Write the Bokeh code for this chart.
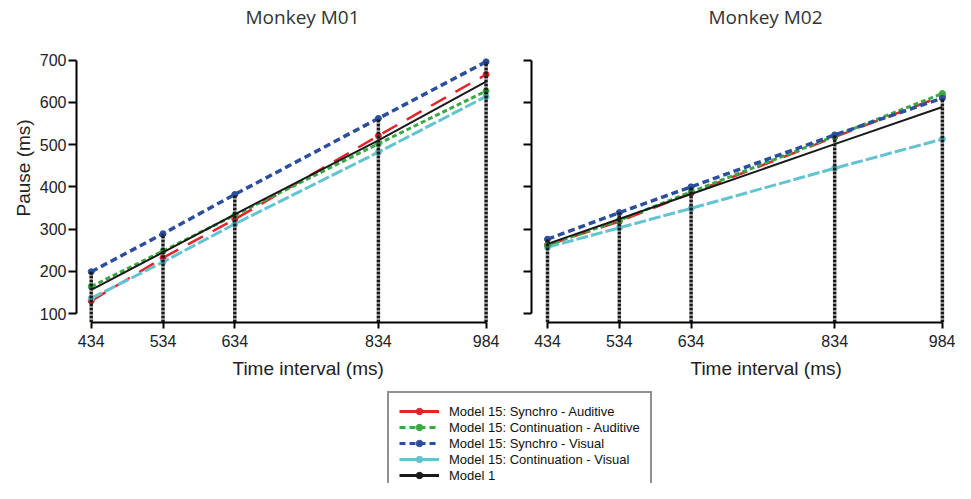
from bokeh.plotting import figure
from bokeh.layouts import column, row
from bokeh.models import (Range1d, FixedTicker, Title, Legend, LegendItem, LinearAxis,
                          ColumnDataSource, CustomJSTickFormatter)
from bokeh.embed import file_html
from bokeh.resources import INLINE

# ---------------- data ----------------
TIME_INTERVALS = [434, 534, 634, 834, 984]
Y_TICKS = [100, 200, 300, 400, 500, 600, 700]

M01_SYNCHRO_AUD = [130, 232, 323, 521, 666]
M01_CONT_AUD = [164, 248, 333, 502, 627]
M01_SYNCHRO_VIS = [199, 289, 382, 562, 696]
M01_CONT_VIS = [136, 222, 312, 482, 614]
M01_MODEL1 = [156, 245, 335, 510, 649]

M02_SYNCHRO_AUD = [262, 318, 385, 518, 615]
M02_CONT_AUD = [262, 321, 388, 520, 621]
M02_SYNCHRO_VIS = [276, 339, 400, 523, 610]
M02_CONT_VIS = [257, 303, 349, 444, 513]
M02_MODEL1 = [265, 324, 383, 501, 589]

LABELS = ["Model 15: Synchro - Auditive", "Model 15: Continuation - Auditive",
          "Model 15: Synchro - Visual", "Model 15: Continuation - Visual",
          "Model 1"]

# ---------------- styles ----------------
RED, GREEN, BLUE, CYAN, BLACK = "#e3242b", "#3aa843", "#2b4e9e", "#63c3d1", "#1a1a1a"
SERIES_STYLE = {
    "sa": dict(color=RED, dash="17 11", width=2.5, marker=True),
    "ca": dict(color=GREEN, dash="5 3", width=3, marker=True),
    "sv": dict(color=BLUE, dash="7 4", width=3.5, marker=True),
    "cv": dict(color=CYAN, dash="12 3", width=3, marker=True),
    "m1": dict(color=BLACK, dash="solid", width=2, marker=False),
}
DRAW_ORDER = ["sa", "cv", "ca", "sv", "m1"]
TICK_FONT = "Liberation Sans"


def make_panel(title, title_offset, xlabel_offset, series, x_start, width,
               mb_left, mb_right, show_ylabels):
    p = figure(width=width, height=385, output_backend="svg", toolbar_location=None,
               title=None,
               x_range=Range1d(x_start, x_start + 585), y_range=Range1d(78.8, 722.8),
               min_border_left=mb_left, min_border_right=mb_right,
               min_border_top=50, min_border_bottom=62)
    p.grid.visible = False
    p.outline_line_color = None
    p.background_fill_color = "white"
    p.border_fill_color = "white"
    xax, yax = p.xaxis[0], p.yaxis[0]

    # blank spacer axis above the frame (white ticks, empty labels),
    # then the panel title outside it
    spacer = LinearAxis(ticker=FixedTicker(ticks=TIME_INTERVALS),
                        formatter=CustomJSTickFormatter(code="return ''"),
                        axis_line_color=None, major_tick_out=21, major_tick_in=0,
                        major_tick_line_color="white", minor_tick_line_color=None,
                        major_label_standoff=0)
    p.add_layout(spacer, "above")
    p.add_layout(Title(text=title, align="left", offset=title_offset,
                       vertical_align="bottom", standoff=0,
                       text_font="Open Sans", text_font_size="19px",
                       text_font_style="normal", text_color="#333333"), "above")

    for ax in (xax, yax):
        ax.axis_line_color = "black"
        ax.axis_line_width = 2
        ax.major_tick_line_color = "black"
        ax.major_tick_line_width = 2
        ax.major_tick_in = 0
        ax.minor_tick_line_color = None
        ax.major_label_text_font = TICK_FONT
        ax.major_label_text_font_size = "16px"
        ax.major_label_text_color = "#222222"

    xax.ticker = FixedTicker(ticks=TIME_INTERVALS)
    xax.bounds = (TIME_INTERVALS[0], TIME_INTERVALS[-1])
    xax.major_tick_out = 6
    xax.major_label_standoff = 6

    yax.ticker = FixedTicker(ticks=Y_TICKS)
    yax.bounds = (Y_TICKS[0], Y_TICKS[-1])
    yax.major_tick_out = 8
    yax.major_label_standoff = 2
    if not show_ylabels:
        yax.formatter = CustomJSTickFormatter(code="return ''")
    else:
        p.add_layout(Title(text="Pause (ms)", align="left", offset=106,
                           text_font=TICK_FONT, text_font_size="19px",
                           text_font_style="normal", text_color="#222222",
                           standoff=6), "left")

    p.add_layout(Title(text="Time interval (ms)", align="left", offset=xlabel_offset,
                       text_font=TICK_FONT, text_font_size="19px",
                       text_font_style="normal", text_color="#222222",
                       standoff=13), "below")

    for key in DRAW_ORDER:
        st = SERIES_STYLE[key]
        src = ColumnDataSource(dict(x=TIME_INTERVALS, y=series[key]))
        p.line("x", "y", source=src, line_color=st["color"], line_width=st["width"],
               line_dash=st["dash"])
        if st["marker"]:
            p.scatter("x", "y", source=src, size=6, fill_color=st["color"],
                      line_color=st["color"])

    # drop lines from the axis to the synchro-visual points
    floor = p.y_range.start
    p.segment(x0=TIME_INTERVALS, y0=[floor] * len(TIME_INTERVALS),
              x1=TIME_INTERVALS, y1=series["sv"], line_color=BLACK,
              line_width=3.5, line_dash="3 1")
    return p


M01 = {"sa": M01_SYNCHRO_AUD, "ca": M01_CONT_AUD, "sv": M01_SYNCHRO_VIS,
       "cv": M01_CONT_VIS, "m1": M01_MODEL1}
M02 = {"sa": M02_SYNCHRO_AUD, "ca": M02_CONT_AUD, "sv": M02_SYNCHRO_VIS,
       "cv": M02_CONT_VIS, "m1": M02_MODEL1}

p1 = make_panel("Monkey M01", 169, 156, M01, x_start=413.5, width=506,
                mb_left=76, mb_right=10, show_ylabels=True)
p2 = make_panel("Monkey M02", 177, 159, M02, x_start=411.7, width=449,
                mb_left=25, mb_right=4, show_ylabels=False)

# ---------------- legend figure ----------------
pl = figure(width=955, height=98, output_backend="svg", toolbar_location=None,
            title=None, x_range=Range1d(0, 1), y_range=Range1d(0, 1),
            min_border_left=387, min_border_right=0, min_border_top=6, min_border_bottom=0)
pl.axis.visible = False
pl.grid.visible = False
pl.outline_line_color = None

LEGEND_DASH = {"sa": "solid", "ca": "6 4", "sv": "6 4", "cv": "solid", "m1": "solid"}
items = []
for key, label in zip(["sa", "ca", "sv", "cv", "m1"], LABELS):
    st = SERIES_STYLE[key]
    # series drawn outside the (0..1) view so only the legend glyphs show
    src = ColumnDataSource(dict(x=TIME_INTERVALS, y=M01[key]))
    lr = pl.line("x", "y", source=src, line_color=st["color"], line_width=3,
                 line_dash=LEGEND_DASH[key])
    sr = pl.scatter("x", "y", source=src, size=10, fill_color=st["color"],
                    line_color=st["color"])
    items.append(LegendItem(label=label, renderers=[lr, sr]))

legend = Legend(items=items, location="top_left", margin=0,
                label_text_font=TICK_FONT, label_text_font_size="13px",
                label_text_color="#111111", glyph_width=40, glyph_height=16,
                label_height=16, spacing=0, padding=10, label_standoff=10,
                border_line_color="#222222", border_line_width=2,
                background_fill_color="white", background_fill_alpha=1.0)
pl.add_layout(legend, "center")

layout = column(row(p1, p2), pl)
open("out.html", "w").write(file_html(layout, INLINE))
